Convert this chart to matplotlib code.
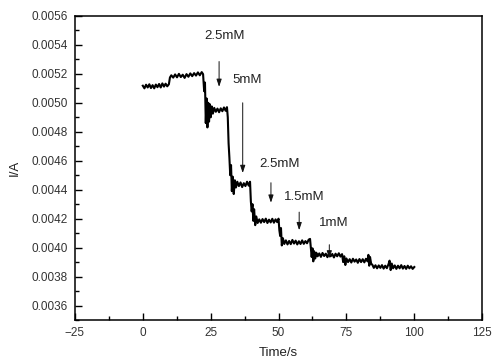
import numpy as np
import matplotlib
matplotlib.use('Agg')
import matplotlib.pyplot as plt
from matplotlib.ticker import MultipleLocator

plt.rcParams['font.family'] = ['Liberation Sans', 'DejaVu Sans']

# amperometric trace
time_s = [0, 0.6, 1.2, 1.8, 2.4, 3.0, 3.6, 4.2, 4.8, 5.4, 6.0, 6.6, 7.2, 7.8, 8.4, 9.0, 9.6,
          10.0, 10.5, 11.2, 11.9, 12.6, 13.3, 14.0, 14.7, 15.4, 16.1, 16.8, 17.5, 18.2, 18.9,
          19.6, 20.3, 21.0, 21.7, 22.2,
          22.6, 22.9, 23.2, 23.5, 23.8, 24.1, 24.4, 24.7, 25.0, 25.4, 25.8, 26.3, 26.9, 27.5,
          28.1, 28.7, 29.3, 29.9, 30.5, 31.0,
          31.3, 31.6, 31.9, 32.2, 32.5, 32.8, 33.1, 33.5, 33.9, 34.3, 34.8, 35.4, 36.0, 36.6,
          37.2, 37.8, 38.4, 39.0, 39.5,
          39.8, 40.1, 40.4, 40.7, 41.0, 41.4, 41.8, 42.3, 42.9, 43.5, 44.1, 44.7, 45.3, 45.9,
          46.5, 47.1, 47.7, 48.3, 48.9, 49.5, 50.0,
          50.3, 50.6, 50.9, 51.2, 51.6, 52.1, 52.7, 53.3, 53.9, 54.5, 55.1, 55.7, 56.3, 56.9,
          57.5, 58.1, 58.7, 59.3, 59.9, 60.5, 61.1, 61.6,
          61.9, 62.2, 62.5, 62.8, 63.1, 63.5, 63.9, 64.4, 65.0, 65.6, 66.2, 66.8, 67.4, 68.0,
          68.6, 69.2, 69.8, 70.4, 71.0, 71.6, 72.2, 72.8, 73.4,
          73.8, 74.2, 74.6, 75.0, 75.6, 76.2, 76.8, 77.4, 78.0, 78.6, 79.2, 79.8, 80.4, 81.0,
          81.6, 82.2, 82.8, 83.1, 83.4, 83.7, 84.1, 84.6,
          85.1, 85.7, 86.3, 86.9, 87.5, 88.1, 88.7, 89.3, 89.9, 90.5, 90.9, 91.3, 91.7, 92.2,
          92.8, 93.4, 94.0, 94.6, 95.2, 95.8, 96.4, 97.0, 97.6, 98.2, 98.8, 99.4, 100.0]
current_a = [0.005118, 0.005100, 0.005125, 0.005106, 0.005128, 0.005102, 0.005122, 0.005100,
             0.005126, 0.005108, 0.005130, 0.005106, 0.005134, 0.005112, 0.005132, 0.005114,
             0.005128,
             0.005175, 0.005190, 0.005174, 0.005196, 0.005176, 0.005200, 0.005178, 0.005194,
             0.005172, 0.005198, 0.005180, 0.005203, 0.005184, 0.005205, 0.005188, 0.005210,
             0.005190, 0.005212, 0.005198,
             0.005080, 0.005140, 0.004860, 0.005030, 0.004830, 0.005000, 0.004870, 0.004990,
             0.004900, 0.004975, 0.004925, 0.004965, 0.004938, 0.004960, 0.004935, 0.004962,
             0.004942, 0.004968, 0.004945, 0.004970,
             0.004900, 0.004720, 0.004620, 0.004500, 0.004570, 0.004390, 0.004490, 0.004370,
             0.004465, 0.004415, 0.004455, 0.004425, 0.004450, 0.004418, 0.004445, 0.004425,
             0.004455, 0.004428, 0.004455,
             0.004320, 0.004250, 0.004300, 0.004185, 0.004265, 0.004155, 0.004215, 0.004170,
             0.004195, 0.004172, 0.004197, 0.004176, 0.004200, 0.004170, 0.004193, 0.004174,
             0.004199, 0.004172, 0.004195, 0.004176, 0.004200,
             0.004120, 0.004080, 0.004135, 0.004015, 0.004065, 0.004025, 0.004050, 0.004022,
             0.004046, 0.004024, 0.004053, 0.004028, 0.004048, 0.004022, 0.004044, 0.004025,
             0.004050, 0.004026, 0.004045, 0.004030, 0.004055, 0.004060,
             0.004000, 0.003935, 0.003995, 0.003905, 0.003975, 0.003925, 0.003965, 0.003940,
             0.003960, 0.003936, 0.003963, 0.003942, 0.003958, 0.003934, 0.003960, 0.003940,
             0.003956, 0.003932, 0.003958, 0.003940, 0.003961, 0.003938, 0.003955,
             0.003900, 0.003940, 0.003880, 0.003925, 0.003900, 0.003920, 0.003897, 0.003923,
             0.003903, 0.003918, 0.003895, 0.003921, 0.003900, 0.003920, 0.003898, 0.003923,
             0.003905, 0.003950, 0.003875, 0.003935, 0.003890, 0.003880,
             0.003860, 0.003878, 0.003857, 0.003877, 0.003860, 0.003879, 0.003855, 0.003875,
             0.003858, 0.003885, 0.003910, 0.003845, 0.003890, 0.003857, 0.003877, 0.003853,
             0.003875, 0.003857, 0.003879, 0.003855, 0.003873, 0.003853, 0.003875, 0.003857,
             0.003871, 0.003853, 0.003866]

# additions: label, arrow x, arrow top, arrow tip, label x, label y
add_labels = ['2.5mM', '5mM', '2.5mM', '1.5mM', '1mM']
add_t = [28.1, 36.8, 47.2, 57.6, 68.7]
arrow_top = [0.005285, 0.005000, 0.004448, 0.004245, 0.004020]
arrow_tip = [0.005110, 0.004515, 0.004310, 0.004120, 0.003925]
label_t = [22.5, 33.0, 43.0, 52.0, 65.0]
label_i = [0.005460, 0.005160, 0.004580, 0.004350, 0.004170]

fig = plt.figure(figsize=(4.93, 3.62), dpi=100)
ax = fig.add_axes([0.152, 0.116, 0.826, 0.84])

ax.plot(time_s, current_a, color='black', lw=1.5)

for lab, t, y0, y1, lt, li in zip(add_labels, add_t, arrow_top, arrow_tip, label_t, label_i):
    ax.annotate('', xy=(t, y1), xytext=(t, y0),
                arrowprops=dict(arrowstyle='-|>,head_length=0.45,head_width=0.15',
                                color='#111111', lw=0.7, shrinkA=0, shrinkB=0))
    ax.text(lt, li, lab, fontsize=9.5, color='#222222', ha='left', va='center')

ax.set_xlim(-25, 125)
ax.set_ylim(0.0035, 0.0056)
ax.xaxis.set_major_locator(MultipleLocator(25))
ax.xaxis.set_minor_locator(MultipleLocator(12.5))
ax.yaxis.set_minor_locator(MultipleLocator(0.0001))
ax.set_yticks(np.arange(0.0036, 0.00561, 0.0002))
ax.yaxis.set_major_formatter(plt.FuncFormatter(lambda v, p: f'{v:.4f}'))

ax.tick_params(which='both', direction='in', top=False, right=False,
               labelsize=8.5, labelcolor='#333333', width=1.0)
ax.tick_params(which='major', length=5, pad=5)
ax.tick_params(which='minor', length=3)
for s in ax.spines.values():
    s.set_linewidth(1.1)

ax.set_xlabel('Time/s', fontsize=9.5, color='#222222', labelpad=6)
ax.set_ylabel('I/A', fontsize=9.5, color='#222222', labelpad=8)

fig.savefig('out.png', dpi=100)
